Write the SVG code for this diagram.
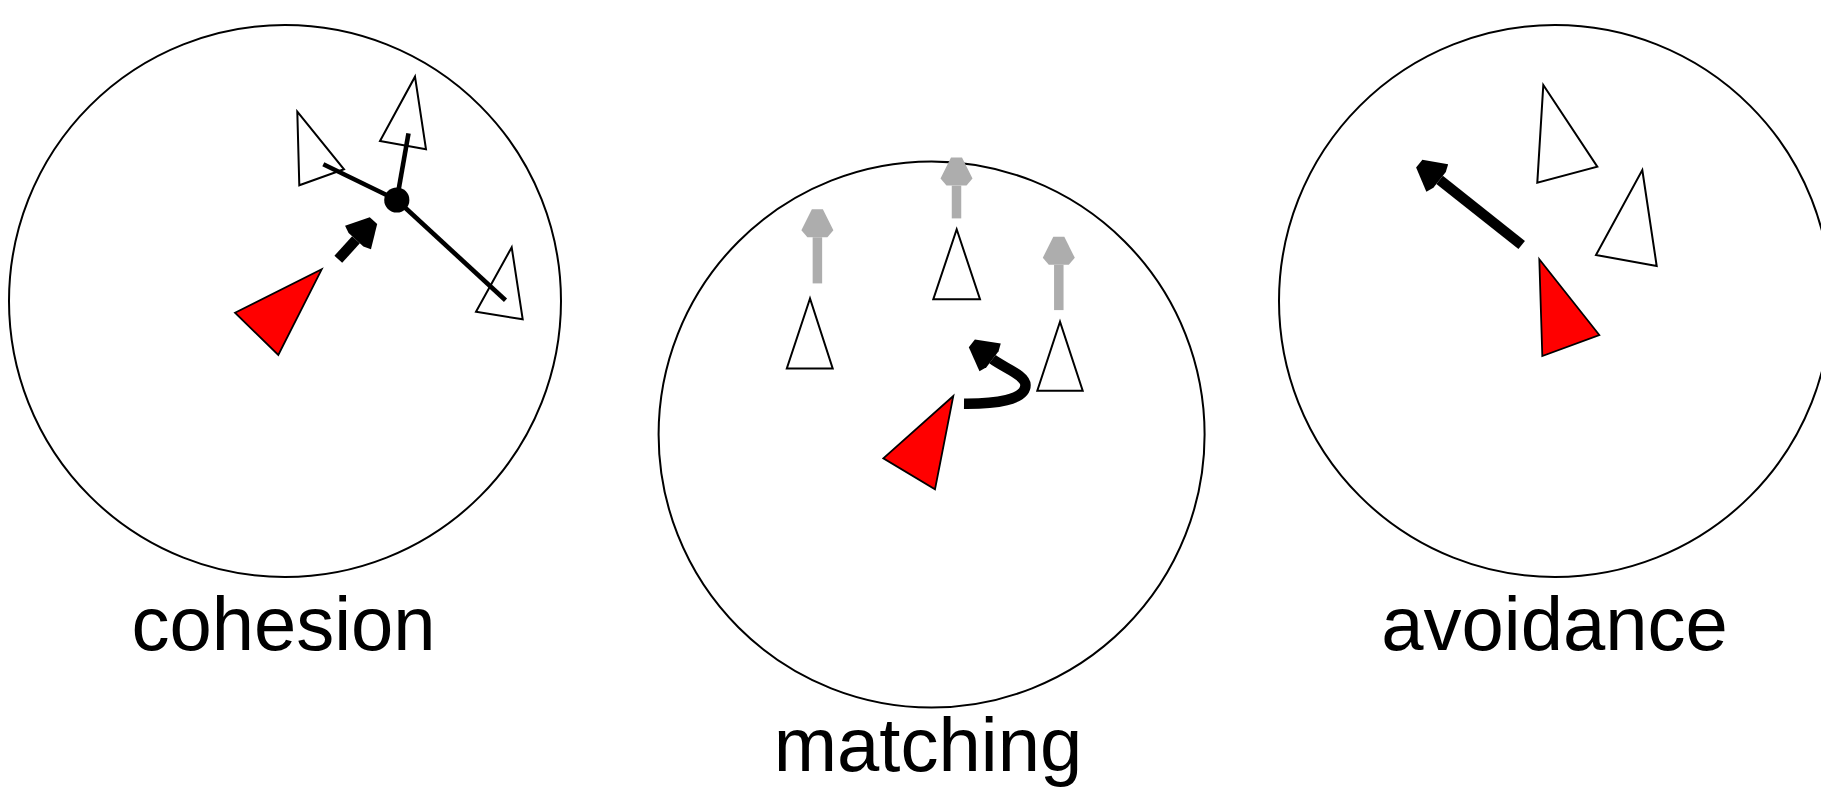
<svg xmlns="http://www.w3.org/2000/svg" width="1821" height="792" viewBox="0 0 1821 792">
<style>
.zone{fill:none;stroke:#000;stroke-width:2}
.boid{fill:#fff;stroke:#000;stroke-width:2;stroke-linejoin:miter}
.self{fill:#ff0000;stroke:#000;stroke-width:1.8;stroke-linejoin:miter}
.link{stroke:#000;stroke-width:4.6;fill:none}
.force{stroke:#000;stroke-width:10.5;fill:none}
.vel{stroke:#adadad;stroke-width:9.5;fill:none}
.label{font-family:"Liberation Sans",Arial,sans-serif;font-size:76px;fill:#000;text-anchor:middle}
</style>
<defs>
<marker id="headBlack" markerUnits="userSpaceOnUse" markerWidth="40" markerHeight="40" refX="0" refY="0" orient="auto" overflow="visible">
<path d="M0,-10 L3,-17.5 L26,-5 L26,5 L3,17.5 L0,10 Z" fill="#000"/>
</marker>
<marker id="headGray" markerUnits="userSpaceOnUse" markerWidth="40" markerHeight="40" refX="0" refY="0" orient="auto" overflow="visible">
<path d="M0,-10 L7,-16 L28,-5.5 L28,5.5 L7,16 L0,10 Z" fill="#adadad"/>
</marker>
</defs>
<rect width="1821" height="792" fill="#fff"/>

<g id="cohesion">
<circle class="zone" cx="285" cy="301" r="276"/>
<polygon class="boid" points="297.3,111.7 344,169.3 299.3,185.3"/>
<polygon class="boid" points="415,76.7 426,149.3 380,141"/>
<polygon class="boid" points="511.7,247.3 522.7,319.3 476,311.7"/>
<polygon class="self" points="235,312.7 321.7,269.3 278.3,355"/>
<circle id="cohesion-centroid" cx="396.8" cy="200" r="12.6" fill="#000"/>
<text class="label" x="283.5" y="650">cohesion</text>
</g>

<g id="matching">
<circle class="zone" cx="931.6" cy="434.5" r="273"/>
<polygon class="boid" points="810,298.5 786.8,368.5 832.7,368.5"/>
<polygon class="boid" points="956.7,229.3 933.3,299.3 980,299.3"/>
<polygon class="boid" points="1060,321.7 1037.3,390.7 1082.7,390.7"/>
<polygon class="self" points="883.3,458.3 953.3,396 935,489.3"/>
<text class="label" x="928" y="771">matching</text>
</g>

<g id="avoidance">
<circle class="zone" cx="1555" cy="301" r="276"/>
<polygon class="boid" points="1543.3,85 1597.3,166.7 1537.3,182.7"/>
<polygon class="boid" points="1642.3,170 1656.7,266 1596,255"/>
<polygon class="self" points="1539.3,259.3 1599.3,335 1542.3,356"/>
<text class="label" x="1554.5" y="650">avoidance</text>
</g>

<g id="connectors">
<line class="link" x1="323.3" y1="164.3" x2="396.8" y2="200"/>
<line class="link" x1="408.5" y1="133.3" x2="396.8" y2="200"/>
<line class="link" x1="396.8" y1="200" x2="505.5" y2="300.3"/>
<line class="force" x1="338.3" y1="259.3" x2="356" y2="239.8" marker-end="url(#headBlack)"/>
<line class="vel" x1="817.4" y1="283.4" x2="817.4" y2="237.3" marker-end="url(#headGray)"/>
<line class="vel" x1="956.5" y1="218.4" x2="956.5" y2="185.6" marker-end="url(#headGray)"/>
<line class="vel" x1="1058.8" y1="310.1" x2="1058.8" y2="264.8" marker-end="url(#headGray)"/>
<path class="force" d="M964,403.7 C995,404 1025.5,400 1025.5,385 C1025.5,375 1004,368 992.5,359.2" marker-end="url(#headBlack)"/>
<line class="force" x1="1521.7" y1="245" x2="1439.6" y2="179.8" marker-end="url(#headBlack)"/>
</g>
</svg>
